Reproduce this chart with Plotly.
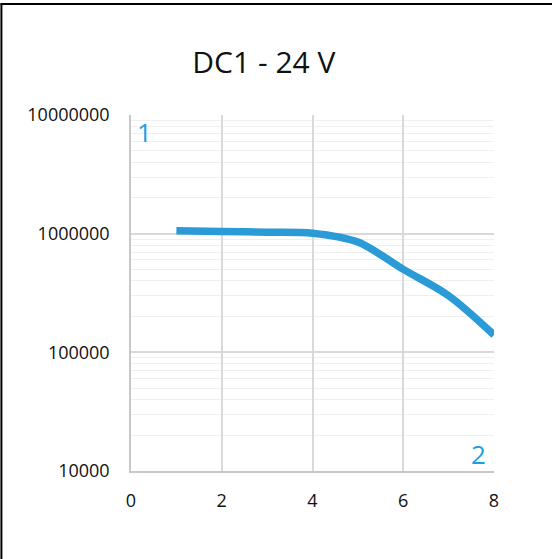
import plotly.graph_objects as go

x_vals = [1, 2, 3, 4, 5, 6, 7, 8]
y_vals = [1060000, 1045000, 1030000, 1010000, 850000, 500000, 300000, 140000]
y_ticks = [10000, 100000, 1000000, 10000000]
y_ticktext = ["10000", "100000", "1000000", "10000000"]
x_ticks = [0, 2, 4, 6, 8]

fig = go.Figure()
fig.add_trace(go.Scatter(
    x=x_vals, y=y_vals, mode="lines",
    line=dict(color="#2a9bd6", width=7.5, shape="spline", smoothing=0.9),
    hoverinfo="skip", showlegend=False,
))

font_family = "'Open Sans', sans-serif"
fig.update_layout(
    width=552, height=559,
    margin=dict(l=131, r=58, t=115, b=88),
    paper_bgcolor="white", plot_bgcolor="white",
    title=dict(text="DC1 - 24 V", x=0.478, xanchor="center", y=0.888, yanchor="middle",
               font=dict(family=font_family, size=30, color="#111111")),
    font=dict(family=font_family, size=18, color="#111111"),
    xaxis=dict(range=[0, 8], tickvals=x_ticks, showgrid=True, gridcolor="#d9d9d9", gridwidth=1.5,
               zeroline=False, showline=True, linecolor="#c8c8c8", linewidth=1.5,
               ticks="", ticklabelstandoff=13),
    yaxis=dict(type="log", range=[4, 7], tickvals=y_ticks, ticktext=y_ticktext,
               showgrid=True, gridcolor="#d9d9d9", gridwidth=1.5,
               minor=dict(showgrid=True, gridcolor="#efefef", gridwidth=1, dtick="D1", ticks=""),
               zeroline=False, showline=True, linecolor="#c8c8c8", linewidth=1.5,
               ticks="", ticklabelstandoff=16),
    shapes=[
        dict(type="line", xref="paper", yref="paper", x0=-0.36, x1=1.16, y0=1.312, y1=1.312,
             line=dict(color="black", width=2)),
        dict(type="line", xref="paper", yref="paper", x0=-0.357, x1=-0.357, y0=-0.25, y1=1.312,
             line=dict(color="black", width=2)),
    ],
    annotations=[
        dict(text="1", x=0.3, y=6.86, xref="x", yref="y", showarrow=False,
             font=dict(family=font_family, size=26, color="#1ba1e2")),
        dict(text="2", x=7.65, y=4.14, xref="x", yref="y", showarrow=False,
             font=dict(family=font_family, size=26, color="#1ba1e2")),
    ],
)

fig.write_html("out.html", config={"displayModeBar": False},
               post_script="document.body.style.margin='0';document.body.style.overflow='hidden';")
